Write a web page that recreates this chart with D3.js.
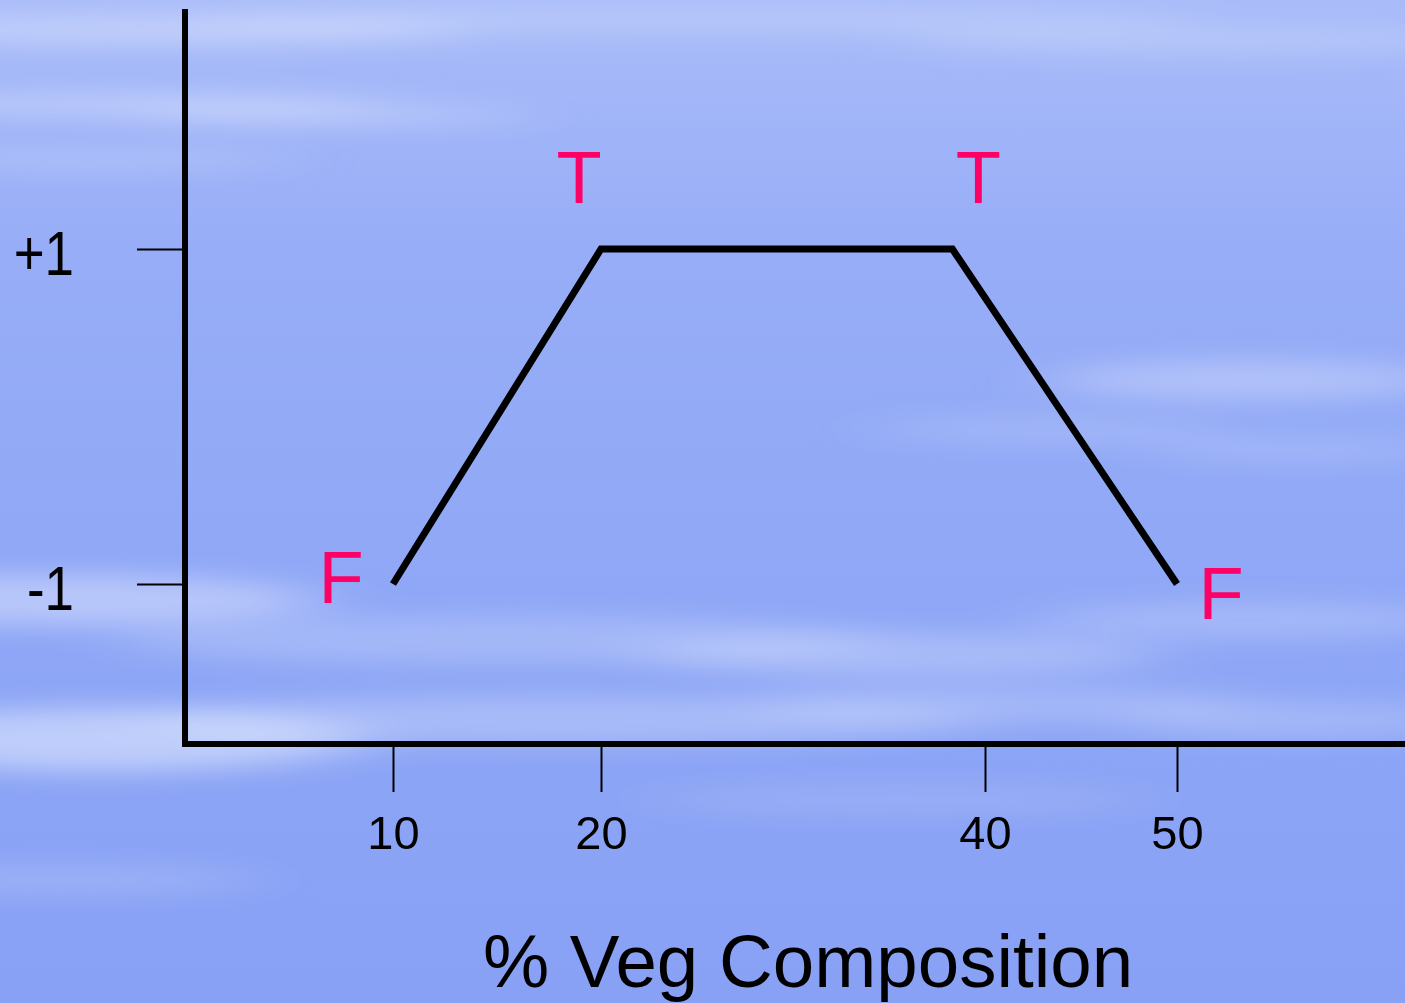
<!DOCTYPE html>
<html lang="en">
<head>
<meta charset="utf-8">
<title>% Veg Composition</title>
<script src="https://cdn.jsdelivr.net/npm/d3@7"></script>
<style>
  body { margin: 0; overflow: hidden; }
  svg { display: block; font-family: "Liberation Sans", Arial, sans-serif; }
</style>
</head>
<body>
<svg width="1405" height="1003"></svg>
<script>
// data
const vegPct = [10, 20, 38.3, 50];
const score = [-1, 1, 1, -1];
const pointLabels = ["F", "T", "T", "F"];
const xTicks = [10, 20, 40, 50];
const yTicks = [-1, 1];
const yTickLabels = ["-1", "+1"];
const xTitle = "% Veg Composition";

// label offsets from their point (layout only)
const labelOffset = [[-52, 19], [-22, -46], [26, -46], [44, 35]];

const W = 1405, H = 1003;
const svg = d3.select("svg");
const defs = svg.append("defs");

// sky background
const grad = defs.append("linearGradient").attr("id", "sky")
  .attr("x1", 0).attr("y1", 0).attr("x2", 0).attr("y2", 1);
grad.append("stop").attr("offset", "0%").attr("stop-color", "#a9bcf9");
grad.append("stop").attr("offset", "25%").attr("stop-color", "#97adf7");
grad.append("stop").attr("offset", "60%").attr("stop-color", "#8fa7f6");
grad.append("stop").attr("offset", "100%").attr("stop-color", "#89a1f5");
svg.append("rect").attr("width", W).attr("height", H).attr("fill", "url(#sky)");

defs.append("filter").attr("id", "blur")
  .attr("x", "-50%").attr("y", "-50%").attr("width", "200%").attr("height", "200%")
  .append("feGaussianBlur").attr("stdDeviation", "40 12");

// wispy clouds [cx, cy, rx, ry, opacity]
const clouds = [
  [150, 30, 320, 16, 0.4], [700, 20, 500, 14, 0.25], [1200, 40, 300, 14, 0.25],
  [120, 105, 260, 12, 0.4], [330, 115, 200, 10, 0.35], [90, 160, 200, 10, 0.25],
  [1250, 380, 200, 20, 0.35], [1050, 430, 180, 12, 0.2], [1300, 450, 150, 12, 0.2],
  [60, 600, 260, 26, 0.45], [500, 640, 380, 24, 0.25], [900, 655, 260, 22, 0.3],
  [1250, 620, 220, 18, 0.25], [100, 740, 260, 32, 0.55], [560, 720, 420, 24, 0.3],
  [1000, 705, 250, 18, 0.25], [1300, 720, 180, 18, 0.25], [900, 800, 250, 14, 0.15],
  [60, 880, 200, 14, 0.2]
];
svg.append("g").attr("filter", "url(#blur)")
  .selectAll("ellipse").data(clouds).join("ellipse")
  .attr("cx", d => d[0]).attr("cy", d => d[1])
  .attr("rx", d => d[2]).attr("ry", d => d[3])
  .attr("fill", "#e8eeff").attr("opacity", d => d[4]);

// scales
const x = d3.scaleLinear().domain(xTicks).range([393, 601, 985, 1177]);
const y = d3.scaleLinear().domain([-1, 1]).range([584, 249]);
const axisX = 185, axisY = 744;

// x axis
const gx = svg.append("g").attr("transform", `translate(0,${axisY})`)
  .call(d3.axisBottom(x).tickValues(xTicks).tickSize(48).tickPadding(24).tickSizeOuter(0));
gx.select(".domain").remove();
gx.selectAll(".tick line").attr("stroke", "#000").attr("stroke-width", 2);
gx.selectAll(".tick text").attr("fill", "#000").attr("font-size", 47)
  .attr("font-family", "Liberation Sans, Arial, sans-serif");

// y axis
const gy = svg.append("g").attr("transform", `translate(${axisX},0)`)
  .call(d3.axisLeft(y).tickValues(yTicks).tickSize(48).tickPadding(63).tickSizeOuter(0)
    .tickFormat((d, i) => yTickLabels[i]));
gy.select(".domain").remove();
gy.selectAll(".tick line").attr("stroke", "#000").attr("stroke-width", 2);
gy.selectAll(".tick text").attr("fill", "#000").attr("font-size", 63).attr("dy", "0.4em")
  .attr("font-family", "Liberation Sans, Arial, sans-serif")
  .each(function () {
    // the slide's labels are a bit narrower than the font
    const len = this.getComputedTextLength();
    d3.select(this).attr("textLength", len * 0.84).attr("lengthAdjust", "spacingAndGlyphs");
  });

// axis lines
svg.append("line").attr("x1", axisX).attr("x2", axisX).attr("y1", 9).attr("y2", axisY + 3)
  .attr("stroke", "#000").attr("stroke-width", 6);
svg.append("line").attr("x1", axisX - 3).attr("x2", W).attr("y1", axisY).attr("y2", axisY)
  .attr("stroke", "#000").attr("stroke-width", 6);

// the curve
const pts = vegPct.map((v, i) => [v, score[i]]);
svg.append("path").datum(pts)
  .attr("d", d3.line().x(d => x(d[0])).y(d => y(d[1])))
  .attr("fill", "none").attr("stroke", "#000").attr("stroke-width", 7)
  .attr("stroke-linejoin", "miter");

// T / F labels
svg.append("g").selectAll("text").data(pts).join("text")
  .attr("x", (d, i) => x(d[0]) + labelOffset[i][0])
  .attr("y", (d, i) => y(d[1]) + labelOffset[i][1])
  .attr("text-anchor", "middle").attr("font-size", 74).attr("fill", "#ff0066")
  .text((d, i) => pointLabels[i]);

// axis title
svg.append("text").attr("x", 808).attr("y", 987).attr("text-anchor", "middle")
  .attr("font-size", 74.5).attr("fill", "#000").text(xTitle);
</script>
</body>
</html>
